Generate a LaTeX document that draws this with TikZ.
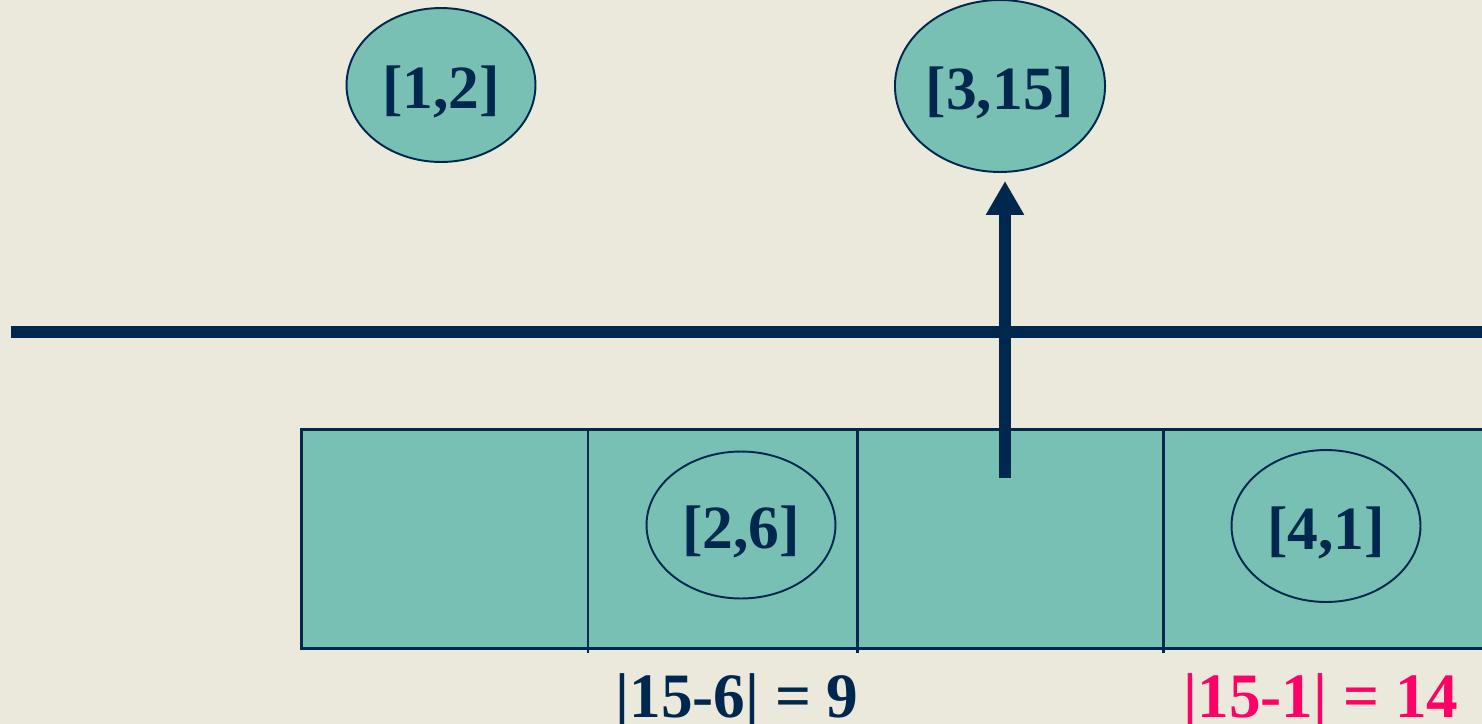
\documentclass[tikz,border=0pt]{standalone}
\usepackage{fontspec}
\setmainfont{Liberation Serif}
\usetikzlibrary{arrows.meta, positioning, shapes.geometric}
\definecolor{paper}{HTML}{EAE9DB}
\definecolor{seafill}{HTML}{78C0B3}
\definecolor{navy}{HTML}{00284F}
\definecolor{hotpink}{HTML}{FF0066}

\begin{document}
\begin{tikzpicture}[x=0.02cm, y=-0.02cm,
      ival/.style = {ellipse, draw=navy, line width=1.1pt, fill=seafill,
                     inner sep=0pt, minimum width=3.78cm, minimum height=3.08cm,
                     text height=33pt, text depth=6pt, text=navy,
                     font=\fontsize{35}{40}\selectfont\bfseries},
      cell/.style = {draw=navy, line width=1.7pt, fill=seafill, inner sep=0pt},
      sep/.style  = {navy, line width=1.7pt},
      bar/.style  = {navy, line width=6.3pt},
      arr/.style  = {-{Triangle[width=0.72cm, length=0.68cm]}, navy, line width=6.3pt},
      lbl/.style  = {anchor=base, text=navy, font=\fontsize{36}{40}\selectfont\bfseries}
    ]

    \fill[paper] (0,0) rectangle (1482,724);
    \useasboundingbox (0,0) rectangle (1482,724);

    % sweep line
    \coordinate (sweepL) at (11,332);
    \coordinate (sweepR) at (1490,332);
    \draw[bar] (sweepL) -- (sweepR);

    % bucket row
    \node[cell, anchor=north west, minimum width=23.8cm, minimum height=4.38cm]
          (row) at (300,428) {};
    \foreach \x in {588,857,1163}
      \draw[sep] (\x,431) -- (\x,653);

    \node[ival]                                          (e12)  at (441,85)   {[1,2]};
    \node[ival, minimum width=4.08cm, minimum height=3.44cm] (e315) at (1000,86) {[3,15]};
    \node[ival, minimum height=2.94cm]                   (e26)  at (741,525)  {[2,6]};
    \node[ival, minimum height=3.04cm]                   (e41)  at (1326,526) {[4,1]};

    \coordinate (stem) at (1005,478);
    \draw[arr, shorten >=0.16cm] (stem) -- (stem |- e315.south);

    \node[lbl]               (d26) at (737,717)  {|15-6| = 9};
    \node[lbl, text=hotpink] (d41) at (1321,717) {|15-1| = 14};
  \end{tikzpicture}
\end{document}
